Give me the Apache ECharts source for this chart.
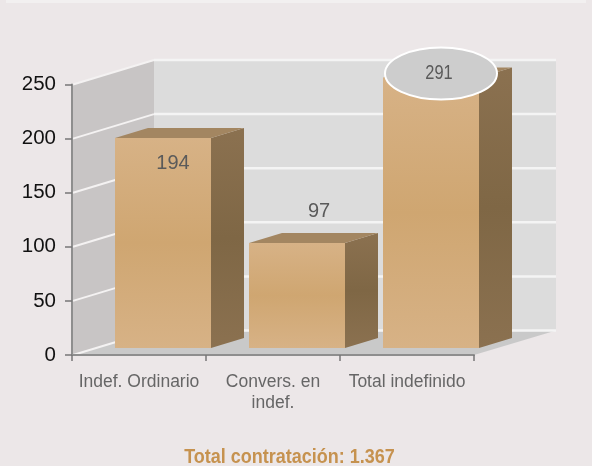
<!DOCTYPE html>
<html><head><meta charset="utf-8">
<style>html,body{margin:0;padding:0;background:#ece7e8}#c{width:592px;height:466px}</style>
<script src="https://cdn.jsdelivr.net/npm/echarts@6/dist/echarts.min.js"></script>
</head><body><div id="c"></div>
<script>
const categories = ['Indef. Ordinario', 'Convers. en\nindef.', 'Total indefinido'];
const values = [194, 97, 291];
const yTicks = [0, 50, 100, 150, 200, 250];
const chartTitle = 'Total contratación: 1.367';
const yMax = 250;

const WALL_DX = 82, WALL_DY = -24.5;
const BAR_W = 96, BAR_SHIFT_X = 24, BAR_SHIFT_Y = -7, BAR_DX = 33, BAR_DY = -10;
const labelOffsets = [[10, 25], [22, -32], [8, -4]];

const frontGrad = {type:'linear',x:0,y:0,x2:0,y2:1,colorStops:[
  {offset:0,color:'#d7b286'},{offset:0.5,color:'#cfa671'},{offset:1,color:'#d7b286'}]};
const sideGrad = {type:'linear',x:0,y:0,x2:0,y2:1,colorStops:[
  {offset:0,color:'#8b7150'},{offset:0.5,color:'#7f6745'},{offset:1,color:'#8b7150'}]};

function renderWalls(params, api) {
  const c = params.coordSys;
  const L = c.x, R = c.x + c.width, T = c.y, B = c.y + c.height;
  const dx = WALL_DX, dy = WALL_DY;
  return {type:'group', silent:true, children:[
    {type:'polygon', shape:{points:[[L+dx,T+dy],[R+dx,T+dy],[R+dx,B+dy],[L+dx,B+dy]]}, style:{fill:'#dcdcdc'}},
    {type:'polygon', shape:{points:[[L,T],[L+dx,T+dy],[L+dx,B+dy],[L,B]]}, style:{fill:'#c8c5c5'}},
    {type:'polygon', shape:{points:[[L,B],[L+dx,B+dy],[R+dx,B+dy],[R,B]]}, style:{fill:'#c9c9c9'}}
  ]};
}
function renderGrid(params, api) {
  const c = params.coordSys;
  const y = api.coord([0, api.value(1)])[1];
  const L = c.x, R = c.x + c.width;
  const dx = WALL_DX, dy = WALL_DY;
  return {type:'group', silent:true, children:[
    {type:'line', shape:{x1:L+1,y1:y,x2:L+dx,y2:y+dy}, style:{stroke:'#f4f2f2',lineWidth:2}},
    {type:'line', shape:{x1:L+dx,y1:y+dy,x2:R+dx,y2:y+dy}, style:{stroke:'#f4f4f4',lineWidth:2.5}}
  ]};
}
function renderBar(params, api) {
  const i = api.value(0), v = api.value(1);
  const p = api.coord([i, Math.min(v, yMax)]);
  const base = api.coord([i, 0]);
  const xl = p[0] + BAR_SHIFT_X - BAR_W/2, xr = xl + BAR_W;
  const yt = p[1] + BAR_SHIFT_Y, yb = base[1] + BAR_SHIFT_Y;
  const dx = BAR_DX, dy = BAR_DY;
  const kids = [
    {type:'polygon', shape:{points:[[xr,yt],[xr+dx,yt+dy],[xr+dx,yb+dy],[xr,yb]]}, style:{fill:sideGrad}},
    {type:'polygon', shape:{points:[[xl,yt],[xl+dx,yt+dy],[xr+dx,yt+dy],[xr,yt]]}, style:{fill:'#a38661'}},
    {type:'rect', shape:{x:xl,y:yt,width:BAR_W,height:yb-yt}, style:{fill:frontGrad}}
  ];
  const cx = (xl+xr)/2 + labelOffsets[params.dataIndex][0];
  const cy = yt + labelOffsets[params.dataIndex][1];
  if (v > yMax) {
    kids.push({type:'ellipse', shape:{cx:cx+2,cy:cy,rx:56,ry:26}, style:{fill:'#cdcdcd',stroke:'#ffffff',lineWidth:2}});
  }
  kids.push({type:'text', x:cx, y:cy, scaleX:v>yMax?0.82:1, style:{text:String(v), x:0, y:0, align:'center', verticalAlign:'middle',
    fontFamily:'Liberation Sans', fontSize:20, fill:'#5a5a5a'}});
  return {type:'group', children:kids};
}

const chart = echarts.init(document.getElementById('c'), null, {renderer:'canvas'});
chart.setOption({
  animation:false,
  backgroundColor:'#ece7e8',
  graphic:[
    {type:'rect',shape:{x:6,y:0,width:580,height:3},style:{fill:'#f2f0f0'},silent:true},
    {type:'text',x:289.5,y:457.5,scaleX:0.9,silent:true,style:{text:chartTitle,x:0,y:0,align:'center',verticalAlign:'middle',fontFamily:'Liberation Sans',fontWeight:'bold',fontSize:20,fill:'#c6924f'}}
  ],
  grid:{left:72,right:118,top:84.5,bottom:111},
  xAxis:{type:'category',data:categories,boundaryGap:true,z:5,
    axisLine:{lineStyle:{color:'#8e8e8e',width:2}},
    axisTick:{show:true,alignWithLabel:false,length:6,lineStyle:{color:'#777',width:1.5}},
    axisLabel:{interval:0,margin:17,color:'#666666',fontFamily:'Liberation Sans',fontSize:17.5,lineHeight:21}},
  yAxis:{type:'value',min:0,max:yMax,interval:50,z:5,
    axisLine:{show:true,lineStyle:{color:'#8e8e8e',width:2}},
    axisTick:{show:true,length:7,lineStyle:{color:'#777',width:1.5}},
    splitLine:{show:false},
    axisLabel:{margin:16,color:'#111111',fontFamily:'Liberation Sans',fontSize:20.5,lineHeight:26,padding:[6,0,0,0]}},
  series:[
    {type:'custom',name:'walls',renderItem:renderWalls,data:[[0,0]],z:1,silent:true},
    {type:'custom',name:'grid',renderItem:renderGrid,data:yTicks.map(t=>[0,t]),encode:{x:0,y:1},z:2,silent:true},
    {type:'custom',name:'Contratación',renderItem:renderBar,data:values.map((v,i)=>[i,v]),encode:{x:0,y:1},z:3,clip:false}
  ]
});
</script></body></html>
